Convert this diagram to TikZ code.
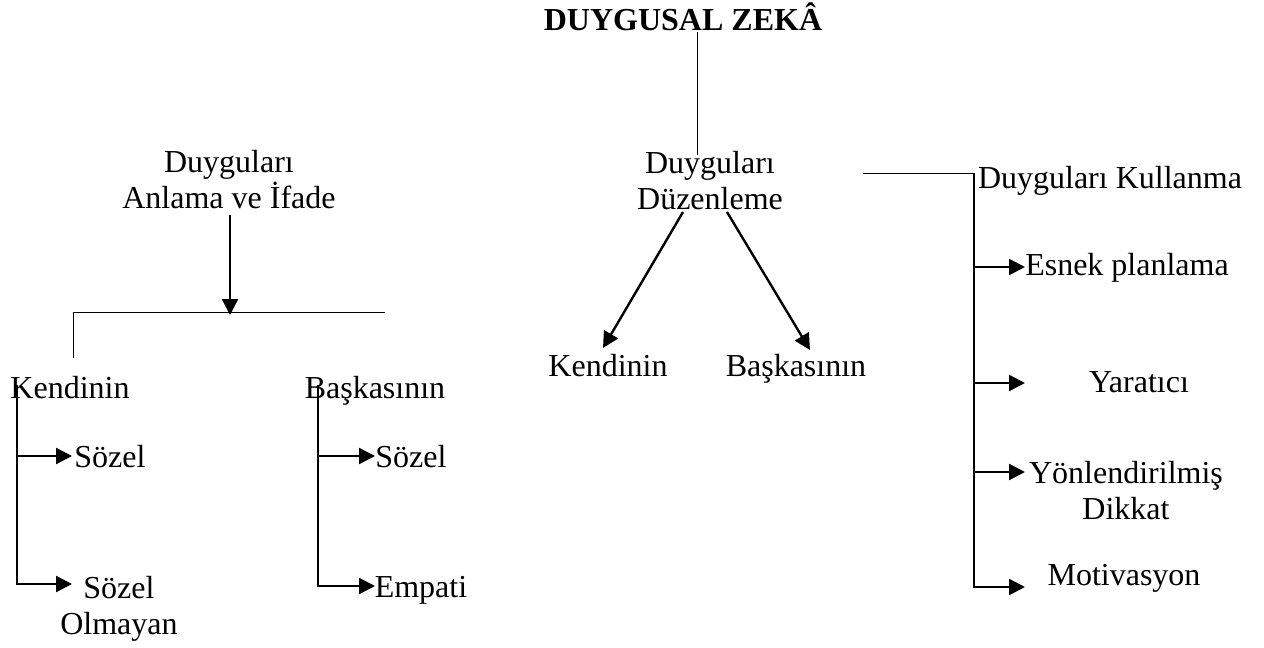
\documentclass[tikz,border=0pt]{standalone}
\usepackage{fontspec}
\setmainfont{Liberation Serif}
\usetikzlibrary{arrows.meta}

\begin{document}
\begin{tikzpicture}[
    x=0.5pt,y=-0.5pt,
    lbl/.style={inner sep=0pt,anchor=base,font=\fontsize{16}{18}\selectfont},
    ml/.style={lbl,align=center,anchor=north},
    ln/.style={line width=0.5pt},
    sp/.style={line width=0.8pt},
    arr/.style={line width=1.2pt,-{Triangle[length=8pt,width=8pt]}}
  ]
  \useasboundingbox (0,0) rectangle (1264,648);
  % labels
  \node[lbl,font=\fontsize{16}{18}\selectfont\bfseries] (tit) at (683,31) {DUYGUSAL ZEKÂ};
  \node[ml] (anl) at (229,150) {Duyguları\\Anlama ve İfade};
  \node[ml] (duz) at (710,151) {Duyguları\\Düzenleme};
  \node[lbl] (kul) at (1110,188) {Duyguları Kullanma};
  \node[lbl] (ken1) at (70,398) {Kendinin};
  \node[lbl] (bas1) at (375,398) {Başkasının};
  \node[lbl] (ken2) at (608,376) {Kendinin};
  \node[lbl] (bas2) at (796,376) {Başkasının};
  \node[lbl] (soz1) at (110,467) {Sözel};
  \node[ml] (sozo) at (119,576) {Sözel\\Olmayan};
  \node[lbl] (soz2) at (411,467) {Sözel};
  \node[lbl] (emp) at (421,597) {Empati};
  \node[lbl] (esn) at (1127,275) {Esnek planlama};
  \node[lbl] (yar) at (1139,392) {Yaratıcı};
  \node[ml] (yon) at (1126,461) {Yönlendirilmiş\\Dikkat};
  \node[lbl] (mot) at (1124,585) {Motivasyon};
  % junctions
  \coordinate (t0) at (697,32);
  \coordinate (t1) at (697,155);
  \coordinate (a0) at (230,215);
  \coordinate (a1) at (230,315);
  \coordinate (b0) at (73,312);
  \coordinate (b1) at (385,312);
  \coordinate (b2) at (73,358);
  \coordinate (k0) at (17,385);
  \coordinate (s0) at (318,385);
  \coordinate (d0) at (683,212);
  \coordinate (d1) at (603,348);
  \coordinate (d2) at (727,212);
  \coordinate (d3) at (810,350);
  \coordinate (u0) at (863,173);
  \coordinate (u1) at (974,173);
  % lines
  \draw[ln] (t0) -- (t1);
  \draw[arr] (a0) -- (a1);
  \draw[ln] (b0) -- (b1);
  \draw[ln] (b0) -- (b2);
  \draw[sp] (k0) -- (17,456);
  \draw[arr] (17,456) -- (72,456);
  \draw[arr] (k0) |- (72,584);
  \draw[sp] (s0) -- (318,456);
  \draw[arr] (318,456) -- (375,456);
  \draw[arr] (s0) |- (375,586);
  \draw[arr] (d0) -- (d1);
  \draw[arr] (d2) -- (d3);
  \draw[ln] (u0) -- (u1);
  \draw[sp] (u1) -- (974,472);
  \foreach \y in {267,383,472}{\draw[arr] (974,\y) -- (1025,\y);}
  \draw[arr] (u1) |- (1025,587);
\end{tikzpicture}
\end{document}
